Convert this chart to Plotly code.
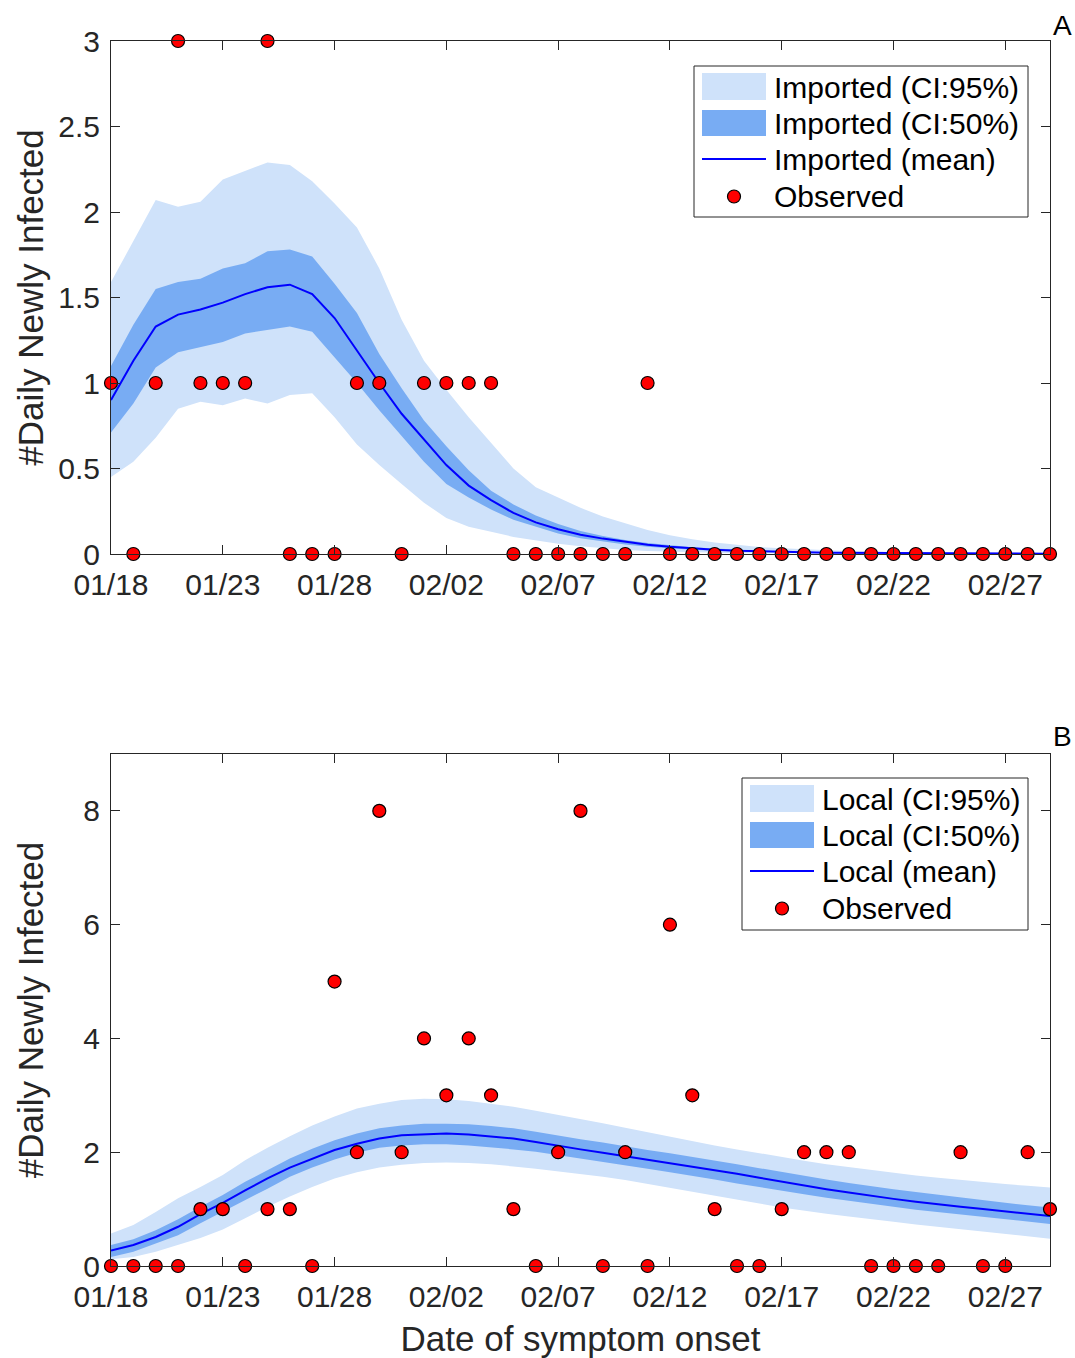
import pandas as pd
import plotly.graph_objects as go

# ---------------- data ----------------
dates = pd.date_range("2020-01-18", "2020-02-29", freq="D")

imp_observed = [1, 0, 1, 3, 1, 1, 1, 3, 0, 0,
                0, 1, 1, 0, 1, 1, 1, 1, 0, 0,
                0, 0, 0, 0, 1, 0, 0, 0, 0, 0,
                0, 0, 0, 0, 0, 0, 0, 0, 0, 0,
                0, 0, 0]
imp_mean = [0.90, 1.13, 1.33, 1.40, 1.43, 1.47, 1.52, 1.56, 1.575, 1.52,
            1.38, 1.19, 1.00, 0.82, 0.67, 0.52, 0.40, 0.315, 0.24, 0.185,
            0.145, 0.113, 0.09, 0.07, 0.054, 0.042, 0.032, 0.025, 0.019, 0.015,
            0.012, 0.010, 0.008, 0.007, 0.006, 0.005, 0.004, 0.004, 0.003, 0.003,
            0.003, 0.002, 0.002]
imp_50_hi = [1.10, 1.34, 1.55, 1.59, 1.61, 1.67, 1.70, 1.77, 1.78, 1.74,
             1.58, 1.41, 1.17, 0.97, 0.78, 0.63, 0.49, 0.37, 0.29, 0.225,
             0.175, 0.135, 0.105, 0.082, 0.064, 0.05, 0.04, 0.032, 0.025, 0.02,
             0.016, 0.013, 0.010, 0.009, 0.008, 0.007, 0.006, 0.005, 0.004, 0.004,
             0.003, 0.003, 0.003]
imp_50_lo = [0.71, 0.88, 1.09, 1.18, 1.21, 1.24, 1.29, 1.31, 1.33, 1.30,
             1.15, 1.00, 0.84, 0.69, 0.54, 0.41, 0.33, 0.26, 0.20, 0.16,
             0.12, 0.092, 0.072, 0.056, 0.043, 0.033, 0.025, 0.019, 0.015, 0.012,
             0.009, 0.007, 0.006, 0.005, 0.004, 0.003, 0.003, 0.002, 0.002, 0.002,
             0.001, 0.001, 0.001]
imp_95_hi = [1.59, 1.83, 2.07, 2.03, 2.06, 2.19, 2.24, 2.29, 2.275, 2.18,
             2.05, 1.91, 1.67, 1.37, 1.13, 0.96, 0.80, 0.65, 0.50, 0.39,
             0.33, 0.27, 0.22, 0.18, 0.14, 0.11, 0.086, 0.067, 0.052, 0.041,
             0.033, 0.027, 0.022, 0.018, 0.015, 0.012, 0.010, 0.009, 0.008, 0.007,
             0.006, 0.005, 0.005]
imp_95_lo = [0.45, 0.54, 0.68, 0.85, 0.89, 0.87, 0.91, 0.88, 0.93, 0.94,
             0.80, 0.64, 0.52, 0.41, 0.30, 0.21, 0.16, 0.13, 0.10, 0.08,
             0.06, 0.045, 0.033, 0.024, 0.017, 0.012, 0.009, 0.007, 0.005, 0.004,
             0.003, 0.002, 0.002, 0.001, 0.001, 0.001, 0.001, 0.0, 0.0, 0.0,
             0.0, 0.0, 0.0]

loc_observed = [0, 0, 0, 0, 1, 1, 0, 1, 1, 0,
                5, 2, 8, 2, 4, 3, 4, 3, 1, 0,
                2, 8, 0, 2, 0, 6, 3, 1, 0, 0,
                1, 2, 2, 2, 0, 0, 0, 0, 2, 0,
                0, 2, 1]
loc_mean = [0.27, 0.37, 0.51, 0.69, 0.91, 1.11, 1.33, 1.54, 1.73, 1.89,
            2.04, 2.15, 2.24, 2.30, 2.32, 2.33, 2.31, 2.28, 2.24, 2.18,
            2.11, 2.05, 1.99, 1.93, 1.87, 1.81, 1.75, 1.69, 1.62, 1.55,
            1.48, 1.41, 1.35, 1.29, 1.23, 1.18, 1.13, 1.08, 1.04, 1.00,
            0.96, 0.92, 0.88]
loc_50_hi = [0.37, 0.47, 0.63, 0.82, 1.04, 1.25, 1.48, 1.68, 1.89, 2.06,
             2.21, 2.33, 2.42, 2.47, 2.50, 2.50, 2.49, 2.46, 2.42, 2.36,
             2.29, 2.23, 2.17, 2.10, 2.04, 1.98, 1.92, 1.86, 1.79, 1.72,
             1.65, 1.58, 1.52, 1.46, 1.40, 1.35, 1.30, 1.25, 1.20, 1.15,
             1.11, 1.07, 1.03]
loc_50_lo = [0.16, 0.25, 0.39, 0.54, 0.75, 0.95, 1.16, 1.36, 1.57, 1.73,
             1.87, 1.99, 2.08, 2.12, 2.14, 2.14, 2.12, 2.09, 2.05, 2.01,
             1.95, 1.89, 1.83, 1.77, 1.71, 1.65, 1.59, 1.52, 1.45, 1.39,
             1.32, 1.26, 1.20, 1.14, 1.09, 1.04, 0.99, 0.94, 0.90, 0.86,
             0.82, 0.78, 0.74]
loc_95_hi = [0.57, 0.72, 0.95, 1.19, 1.39, 1.60, 1.86, 2.08, 2.28, 2.47,
             2.63, 2.77, 2.85, 2.92, 2.94, 2.93, 2.90, 2.85, 2.80, 2.73,
             2.66, 2.59, 2.51, 2.43, 2.35, 2.27, 2.19, 2.12, 2.05, 1.98,
             1.91, 1.85, 1.79, 1.74, 1.68, 1.63, 1.59, 1.55, 1.51, 1.47,
             1.44, 1.41, 1.38]
loc_95_lo = [0.12, 0.16, 0.25, 0.37, 0.49, 0.64, 0.84, 1.04, 1.22, 1.39,
             1.54, 1.65, 1.73, 1.78, 1.81, 1.82, 1.81, 1.79, 1.75, 1.71,
             1.67, 1.62, 1.57, 1.51, 1.45, 1.38, 1.31, 1.24, 1.17, 1.10,
             1.03, 0.97, 0.92, 0.87, 0.82, 0.78, 0.73, 0.69, 0.64, 0.60,
             0.56, 0.52, 0.48]

imp_labels = ["Imported (CI:95%)", "Imported (CI:50%)", "Imported (mean)", "Observed"]
loc_labels = ["Local (CI:95%)", "Local (CI:50%)", "Local (mean)", "Observed"]
y1_ticks = [0, 0.5, 1, 1.5, 2, 2.5, 3]
y2_ticks = [0, 2, 4, 6, 8]

# ---------------- style ----------------
C95 = "rgb(207,226,250)"
C50 = "rgb(120,172,243)"
CMEAN = "#0000ff"
FONT = "Liberation Sans, Arial, Helvetica, sans-serif"
AX = "#262626"

W, H = 1075, 1358
ML, MR, MT, MB = 111, 25, 41, 92
PW, PH = W - ML - MR, H - MT - MB


def px_x(p):
    return (p - ML) / PW


def px_y(p):
    return (H - MB - p) / PH


fig = go.Figure()
xs = list(dates)


def add_panel(xa, ya, hi95, lo95, hi50, lo50, mean, obs):
    fig.add_trace(go.Scatter(x=xs + xs[::-1], y=hi95 + lo95[::-1], fill="toself",
                             fillcolor=C95, line=dict(width=0), mode="lines",
                             showlegend=False, hoverinfo="skip", xaxis=xa, yaxis=ya))
    fig.add_trace(go.Scatter(x=xs + xs[::-1], y=hi50 + lo50[::-1], fill="toself",
                             fillcolor=C50, line=dict(width=0), mode="lines",
                             showlegend=False, hoverinfo="skip", xaxis=xa, yaxis=ya))
    fig.add_trace(go.Scatter(x=xs, y=mean, mode="lines", line=dict(color=CMEAN, width=2),
                             showlegend=False, xaxis=xa, yaxis=ya))
    fig.add_trace(go.Scatter(x=xs, y=obs, mode="markers", cliponaxis=False,
                             marker=dict(color="#ff0000", size=13,
                                         line=dict(color="black", width=1.2)),
                             showlegend=False, xaxis=xa, yaxis=ya))


add_panel("x", "y", imp_95_hi, imp_95_lo, imp_50_hi, imp_50_lo, imp_mean, imp_observed)
add_panel("x2", "y2", loc_95_hi, loc_95_lo, loc_50_hi, loc_50_lo, loc_mean, loc_observed)

common_x = dict(range=[dates[0], dates[-1]], tick0=dates[0], dtick=5 * 86400000,
                tickformat="%m/%d", showline=True, linecolor=AX, linewidth=1,
                mirror="ticks", ticks="inside", ticklen=9, tickcolor=AX,
                showgrid=False, zeroline=False, ticklabelstandoff=4, automargin=False,
                tickfont=dict(family=FONT, size=30, color=AX))
common_y = dict(showline=True, linecolor=AX, linewidth=1, mirror="ticks",
                ticks="inside", ticklen=9, tickcolor=AX, showgrid=False,
                zeroline=False, tickfont=dict(family=FONT, size=30, color=AX),
                ticklabelstandoff=4, automargin=False)
ytitle_font = dict(family=FONT, size=35, color=AX)

top_lo = px_y(554)
bot_hi = px_y(754)

fig.update_layout(
    width=W, height=H, margin=dict(l=ML, r=MR, t=MT, b=MB, autoexpand=False),
    paper_bgcolor="white", plot_bgcolor="white", showlegend=False,
    xaxis=dict(**common_x, anchor="y"),
    xaxis2=dict(**common_x, anchor="y2",
                title=dict(text="Date of symptom onset", standoff=14,
                           font=dict(family=FONT, size=35, color=AX))),
    yaxis=dict(**common_y, domain=[top_lo, 1], range=[0, 3], tickvals=y1_ticks,
               ticktext=[f"{v:g}" for v in y1_ticks],
               title=dict(text="#Daily Newly Infected", standoff=4, font=ytitle_font)),
    yaxis2=dict(**common_y, domain=[0, bot_hi], range=[0, 9], tickvals=y2_ticks,
                title=dict(text="#Daily Newly Infected", standoff=29, font=ytitle_font)),
)

# panel letters
for letter, py in (("A", 25), ("B", 737)):
    fig.add_annotation(text=letter, xref="paper", yref="paper", x=px_x(1062), y=px_y(py),
                       showarrow=False, xanchor="center", yanchor="middle",
                       font=dict(family=FONT, size=28, color="black"))


# legends drawn as boxes in paper space
def draw_legend(left, top, right, bottom, labels):
    fig.add_shape(type="rect", xref="paper", yref="paper",
                  x0=px_x(left), x1=px_x(right), y0=px_y(top), y1=px_y(bottom),
                  line=dict(color="#262626", width=1), fillcolor="white", layer="above")
    sx0, sx1 = left + 8, left + 72
    fig.add_shape(type="rect", xref="paper", yref="paper", x0=px_x(sx0), x1=px_x(sx1),
                  y0=px_y(top + 7), y1=px_y(top + 34), line=dict(width=0),
                  fillcolor=C95, layer="above")
    fig.add_shape(type="rect", xref="paper", yref="paper", x0=px_x(sx0), x1=px_x(sx1),
                  y0=px_y(top + 44), y1=px_y(top + 70), line=dict(width=0),
                  fillcolor=C50, layer="above")
    fig.add_shape(type="line", xref="paper", yref="paper", x0=px_x(sx0), x1=px_x(sx1),
                  y0=px_y(top + 93), y1=px_y(top + 93), line=dict(color=CMEAN, width=2),
                  layer="above")
    cx, cy, r = left + 40, top + 130.5, 6.5
    fig.add_shape(type="circle", xref="paper", yref="paper",
                  x0=px_x(cx - r), x1=px_x(cx + r), y0=px_y(cy + r), y1=px_y(cy - r),
                  line=dict(color="black", width=1.2), fillcolor="#ff0000", layer="above")
    for lab, dy in zip(labels, (21.5, 57.5, 93.5, 130.5)):
        fig.add_annotation(text=lab, xref="paper", yref="paper", x=px_x(left + 78),
                           y=px_y(top + dy), showarrow=False, xanchor="left",
                           yanchor="middle", font=dict(family=FONT, size=30, color="black"))


draw_legend(694, 66, 1028, 217, imp_labels)
draw_legend(742, 778, 1028, 930, loc_labels)

fig.write_html("out.html")
